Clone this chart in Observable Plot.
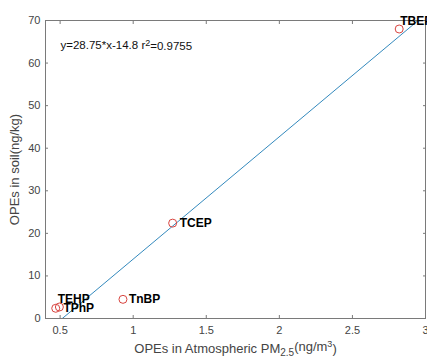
<!DOCTYPE html>
<html><head><meta charset="utf-8">
<script src="https://cdn.jsdelivr.net/npm/d3@7"></script>
<script src="https://cdn.jsdelivr.net/npm/@observablehq/plot@0.6"></script>
<style>body{margin:0;background:#fff}</style>
</head><body><div id="chart"></div>
<script>
const compounds = ["TBEP", "TCEP", "TnBP", "TEHP", "TPhP"];
const airPM25 = [2.82, 1.27, 0.93, 0.47, 0.495];
const soil = [68.0, 22.4, 4.5, 2.4, 2.7];
const fitSlope = 28.75, fitIntercept = -14.8, r2 = 0.9755;
const xTicks = [0.5, 1, 1.5, 2, 2.5, 3];
const yTicks = [0, 10, 20, 30, 40, 50, 60, 70];
const xDomain = [0.4, 3], yDomain = [0, 70];

const points = compounds.map((c, i) => ({name: c, x: airPM25[i], y: soil[i]}));
const fitLine = xDomain.map(x => ({x, y: fitSlope * x + fitIntercept}));
const labelOffsets = {TBEP: [1, -8], TCEP: [7, 0], TnBP: [6, 0], TEHP: [2, -9], TPhP: [4, 1]};

const axisColor = "#7a7a7a", tickText = "#444";
const font = "Liberation Sans, Arial, sans-serif";

const labelMarks = compounds.map(c => Plot.text(points.filter(d => d.name === c), {
  x: "x", y: "y", text: "name", textAnchor: "start", dx: labelOffsets[c][0], dy: labelOffsets[c][1],
  fill: "#000", fontWeight: "bold", fontSize: 12
}));

const chart = Plot.plot({
  width: 427, height: 357,
  marginLeft: 45, marginRight: 2, marginTop: 20, marginBottom: 39,
  style: {fontFamily: font, background: "#fff", overflow: "visible"},
  x: {domain: xDomain, ticks: xTicks},
  y: {domain: yDomain, ticks: yTicks},
  marks: [
    Plot.frame({stroke: axisColor, strokeWidth: 1}),
    Plot.axisX({anchor: "bottom", ticks: xTicks, tickFormat: d => String(d), tickSize: -3, tickPadding: 11, stroke: axisColor, color: tickText, fontSize: 11,
      label: "OPEs in Atmospheric PM2.5(ng/m3)", labelAnchor: "center", labelArrow: "none", labelOffset: 34}),
    Plot.axisX({anchor: "top", ticks: xTicks, tickSize: -3, stroke: axisColor, text: null, label: null}),
    Plot.axisY({anchor: "left", ticks: yTicks, tickFormat: d => String(d), tickSize: -3, tickPadding: 8, stroke: axisColor, color: tickText, fontSize: 11,
      label: "OPEs in soil(ng/kg)", labelAnchor: "center", labelArrow: "none", labelOffset: 36}),
    Plot.axisY({anchor: "right", ticks: yTicks, tickSize: -3, stroke: axisColor, text: null, label: null}),
    Plot.line(fitLine, {x: "x", y: "y", stroke: "#3389bd", strokeWidth: 1, clip: true}),
    Plot.dot(points, {x: "x", y: "y", r: 4, stroke: "#d8443f", fill: "none", strokeWidth: 1}),
    ...labelMarks,
    Plot.text(["ANNOT"], {frameAnchor: "top-left", dx: 15, dy: 25, textAnchor: "start", lineAnchor: "middle", text: d => d, fill: "#111", fontSize: 11.5})
  ]
});
document.getElementById("chart").appendChild(chart);

// rich text: sub/superscripts
const svg = d3.select(chart);
svg.selectAll("text").each(function() {
  const t = this.textContent;
  if (t === "OPEs in Atmospheric PM2.5(ng/m3)") {
    const s = d3.select(this); s.text(null); s.style("font-size", "13px").attr("fill", "#444");
    s.append("tspan").text("OPEs in Atmospheric PM");
    s.append("tspan").attr("dy", "0.35em").style("font-size", "10px").text("2.5");
    s.append("tspan").attr("dy", "-0.35em").text("(ng/m");
    s.append("tspan").attr("dy", "-0.45em").style("font-size", "9px").text("3");
    s.append("tspan").attr("dy", "0.45em").text(")");
  } else if (t === "OPEs in soil(ng/kg)") {
    d3.select(this).style("font-size", "13px").attr("fill", "#444");
  } else if (t === "ANNOT") {
    const s = d3.select(this); s.text(null);
    s.append("tspan").text(`y=${fitSlope}*x${fitIntercept} r`);
    s.append("tspan").attr("dy", "-0.4em").style("font-size", "9px").text("2");
    s.append("tspan").attr("dy", "0.4em").text(`=${r2}`);
  }
});
</script>
</body></html>
